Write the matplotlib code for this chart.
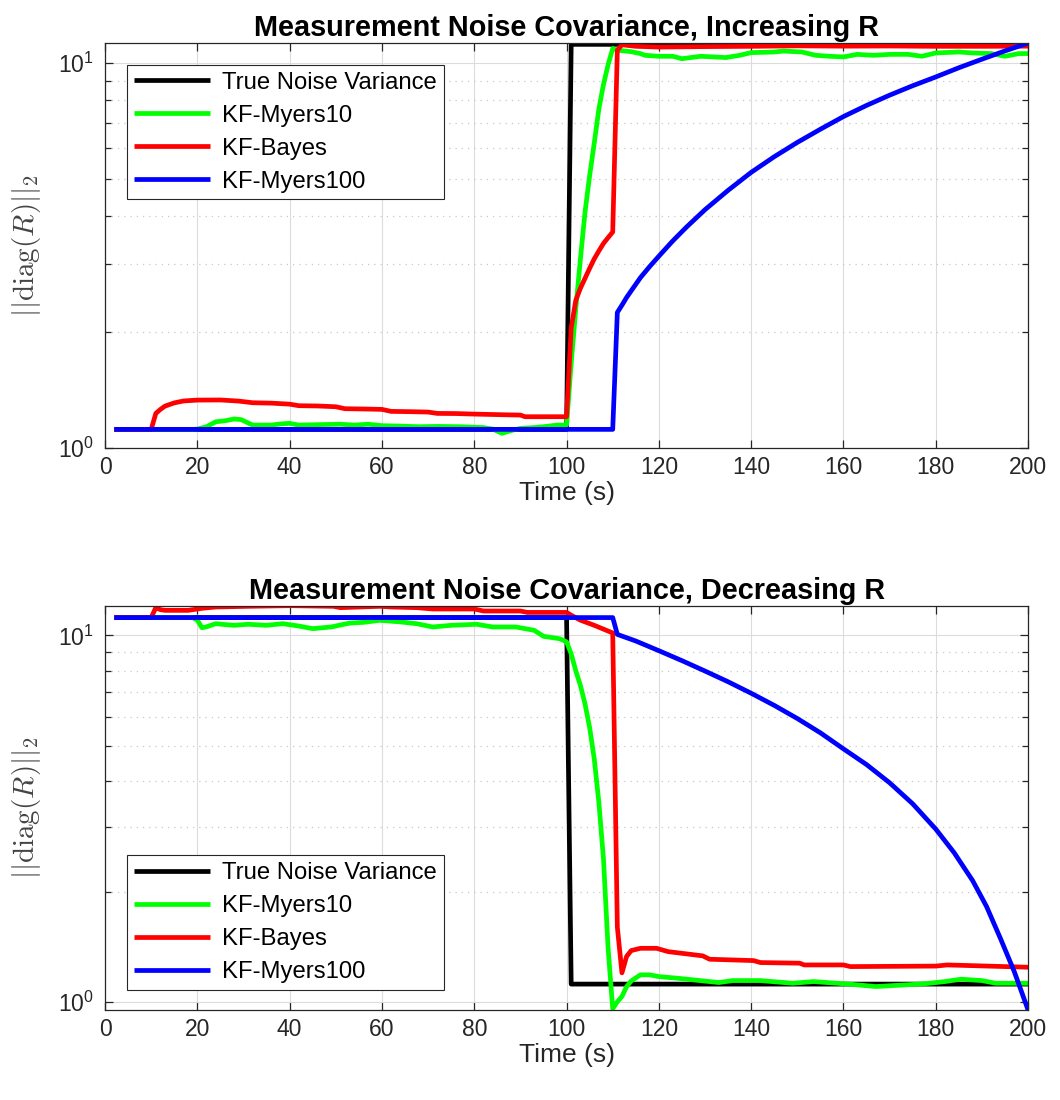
import matplotlib
matplotlib.use("Agg")
import matplotlib.pyplot as plt
from matplotlib.ticker import LogLocator, NullFormatter, MultipleLocator

plt.rcParams['font.family'] = ['Liberation Sans', 'DejaVu Sans']
plt.rcParams['mathtext.fontset'] = 'cm'

LABELS = ["True Noise Variance", "KF-Myers10", "KF-Bayes", "KF-Myers100"]
COLORS = ["#000000", "#00ff00", "#ff0000", "#0000ff"]

# --- Increasing R ---
t_true_inc = [2, 100, 101, 200]
true_inc = [1.118, 1.118, 11.18, 11.18]

t_m10_inc = [2, 19, 20, 22, 24, 26, 28, 29.5, 32, 36, 38, 40, 42, 46, 51, 54, 57, 60, 64, 68,
             72, 77, 82, 84, 86, 88, 90, 93, 95, 98, 100, 101, 102, 103, 104, 105, 106, 107,
             108, 109, 110, 111, 114, 116, 117, 120, 123, 125, 129, 132, 134.5, 137.5, 140,
             145, 147, 151, 154, 157, 160, 163, 166.5, 170, 174, 177, 180, 185, 188, 192,
             195, 198, 200]
m10_inc = [1.118, 1.118, 1.12, 1.136, 1.17, 1.177, 1.19, 1.185, 1.147, 1.147, 1.155, 1.159,
           1.147, 1.15, 1.153, 1.147, 1.153, 1.143, 1.14, 1.136, 1.138, 1.136, 1.13, 1.12,
           1.092, 1.11, 1.125, 1.13, 1.136, 1.147, 1.147, 1.66, 2.3, 3.1, 4.1, 5.1, 6.2, 7.6,
           8.8, 9.9, 10.9, 10.8, 10.7, 10.58, 10.47, 10.41, 10.41, 10.26, 10.41, 10.37, 10.33,
           10.47, 10.64, 10.68, 10.74, 10.68, 10.47, 10.41, 10.37, 10.53, 10.47, 10.53, 10.53,
           10.41, 10.62, 10.68, 10.62, 10.58, 10.41, 10.58, 10.58]

t_bayes_inc = [2, 10, 11, 12, 13, 15, 17, 20, 25, 29, 32, 36, 40, 42, 46, 50, 52, 56, 60, 62,
               66, 70, 72, 76, 80, 84, 88, 90, 91, 100, 101, 102, 103, 104, 105, 106, 107, 108,
               109, 110, 111, 112, 115, 120, 130, 140, 150, 160, 170, 180, 190, 200]
bayes_inc = [1.118, 1.118, 1.23, 1.26, 1.285, 1.31, 1.325, 1.332, 1.333, 1.324, 1.311, 1.308,
             1.30, 1.288, 1.286, 1.28, 1.265, 1.263, 1.26, 1.245, 1.243, 1.24, 1.23, 1.229,
             1.225, 1.222, 1.219, 1.218, 1.206, 1.206, 2.05, 2.42, 2.6, 2.76, 2.93, 3.1, 3.25,
             3.4, 3.52, 3.64, 10.8, 11.15, 11.05, 11.0, 11.03, 11.05, 11.08, 11.06, 11.07,
             11.05, 11.05, 11.06]

t_m100_inc = [2, 110, 111, 112, 113, 114, 116, 118, 120, 123, 126, 130, 135, 140, 145, 150,
              155, 160, 165, 170, 175, 180, 185, 190, 195, 200]
m100_inc = [1.118, 1.118, 2.25, 2.35, 2.46, 2.56, 2.77, 2.96, 3.15, 3.45, 3.75, 4.16, 4.67,
            5.2, 5.71, 6.22, 6.73, 7.26, 7.76, 8.25, 8.73, 9.2, 9.72, 10.23, 10.75, 11.27]

# --- Decreasing R ---
t_true_dec = [2, 100, 101, 200]
true_dec = [11.18, 11.18, 1.118, 1.118]

t_m10_dec = [2, 19, 20, 21, 22, 24, 26, 28, 31, 35, 38.5, 42, 45, 49, 53, 56, 59.5, 64, 67.5,
             71, 75, 80.5, 84, 89, 93, 95, 98.5, 100, 101, 102, 103, 104, 105, 106, 107, 108,
             109, 110, 111, 112, 113, 114, 116, 118, 120, 124, 127.5, 133, 136, 142, 149,
             153.5, 161.5, 167, 172, 177.5, 182, 185.5, 190, 193, 200]
m10_dec = [11.18, 11.18, 11.0, 10.49, 10.55, 10.76, 10.7, 10.65, 10.72, 10.65, 10.76, 10.6,
           10.43, 10.54, 10.8, 10.85, 10.99, 10.88, 10.76, 10.54, 10.65, 10.72, 10.54, 10.54,
           10.32, 9.94, 9.79, 9.6, 8.9, 8.0, 7.3, 6.5, 5.6, 4.6, 3.5, 2.45, 1.4, 0.958, 1.0,
           1.035, 1.10, 1.14, 1.185, 1.185, 1.172, 1.16, 1.148, 1.129, 1.143, 1.143, 1.124,
           1.136, 1.117, 1.101, 1.11, 1.12, 1.136, 1.153, 1.143, 1.124, 1.124]

t_bayes_dec = [2, 10, 11, 12, 13, 18, 21, 24, 31, 40, 49.5, 51, 59.5, 62, 67.5, 71, 80, 82, 90,
               91.5, 100, 101, 103, 106, 110, 111, 112, 113, 114, 116, 119.5, 122, 129.5, 131,
               140.5, 142, 150.5, 151.5, 160, 161.5, 180, 182.5, 200]
bayes_dec = [11.18, 11.18, 11.9, 11.75, 11.7, 11.7, 11.85, 11.95, 12.0, 12.05, 12.0, 11.9, 12.0,
             11.95, 11.9, 11.8, 11.8, 11.65, 11.65, 11.55, 11.55, 11.35, 11.0, 10.65, 10.15,
             1.6, 1.2, 1.33, 1.38, 1.40, 1.40, 1.371, 1.335, 1.307, 1.296, 1.28, 1.275, 1.261,
             1.261, 1.248, 1.252, 1.261, 1.243]

t_m100_dec = [2, 110, 111, 115, 120, 125, 130, 135, 140, 145, 150, 155, 160, 165, 170, 175,
              180, 184, 188, 191, 194, 197, 200]
m100_dec = [11.18, 11.18, 10.06, 9.65, 9.08, 8.53, 7.99, 7.47, 6.95, 6.44, 5.93, 5.42, 4.90,
            4.44, 3.96, 3.47, 2.96, 2.55, 2.14, 1.82, 1.49, 1.21, 0.95]

TICK_COLOR = "#262626"


def draw_panel(ax, series, title, ylim, legend_loc, legend_anchor):
    for (t, v), lab, col in zip(series, LABELS, COLORS):
        ax.plot(t, v, color=col, lw=3.4, label=lab, solid_joinstyle="round",
                solid_capstyle="butt")
    ax.set_yscale("log")
    ax.set_xlim(0, 200)
    ax.set_ylim(*ylim)
    ax.xaxis.set_major_locator(MultipleLocator(20))
    ax.yaxis.set_major_locator(LogLocator(base=10))
    ax.yaxis.set_minor_locator(LogLocator(base=10, subs=range(2, 10)))
    ax.yaxis.set_minor_formatter(NullFormatter())

    ax.grid(True, which="major", color="#dcdcdc", lw=0.8)
    ax.grid(True, which="minor", axis="y", color="#c8c8c8", lw=0.9, ls=(0, (1, 4)))
    ax.set_axisbelow(True)

    ax.tick_params(which="both", direction="in", top=True, right=True,
                   labelsize=16.5, colors=TICK_COLOR, labelcolor=TICK_COLOR)
    ax.tick_params(which="major", length=6, width=0.9)
    ax.tick_params(axis="x", which="major", pad=6)
    ax.tick_params(axis="y", which="major", pad=8)
    ax.tick_params(which="minor", length=4, width=0.9)
    for sp in ax.spines.values():
        sp.set_color(TICK_COLOR)
        sp.set_linewidth(0.9)

    ax.set_title(title, fontsize=20.8, fontweight="bold", pad=5)
    ax.set_xlabel("Time (s)", fontsize=19, color=TICK_COLOR, labelpad=1)
    ax.set_ylabel(r"$||\mathrm{diag}(R)||_2$", fontsize=21, color="#444444", labelpad=11)

    leg = ax.legend(loc=legend_loc, bbox_to_anchor=legend_anchor, borderaxespad=0,
                    fontsize=17.2, fancybox=False, framealpha=1, edgecolor="#262626",
                    handlelength=3.2, handletextpad=0.5, labelspacing=0.46,
                    borderpad=0.28)
    leg.get_frame().set_linewidth(0.8)


fig = plt.figure(figsize=(10.6, 11), dpi=100)
ax_top = fig.add_axes([0.0991, 0.5927, 0.8708, 0.3682])
ax_bot = fig.add_axes([0.0991, 0.0818, 0.8708, 0.3676])

draw_panel(ax_top,
           [(t_true_inc, true_inc), (t_m10_inc, m10_inc),
            (t_bayes_inc, bayes_inc), (t_m100_inc, m100_inc)],
           "Measurement Noise Covariance, Increasing R", (1.0, 11.27),
           "upper left", (0.024, 0.946))
draw_panel(ax_bot,
           [(t_true_dec, true_dec), (t_m10_dec, m10_dec),
            (t_bayes_dec, bayes_dec), (t_m100_dec, m100_dec)],
           "Measurement Noise Covariance, Decreasing R", (0.95, 12.05),
           "lower left", (0.024, 0.05))

fig.savefig("out.png", dpi=100)
